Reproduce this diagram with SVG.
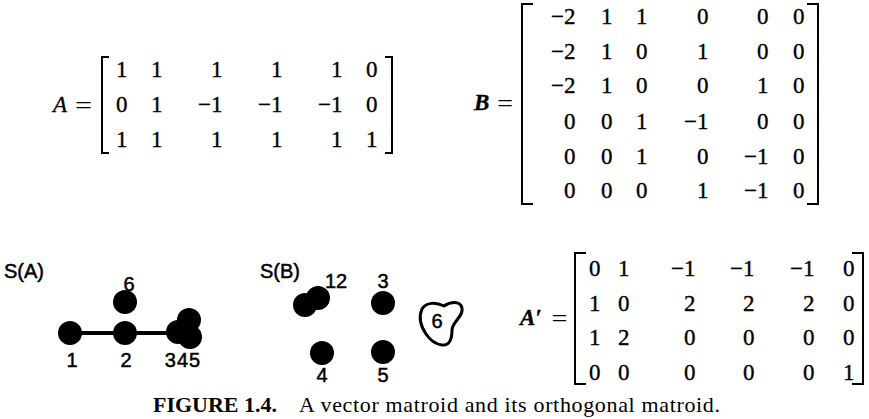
<svg xmlns="http://www.w3.org/2000/svg" width="869" height="419" viewBox="0 0 869 419">
  <style>
    .m text { font-family: "Liberation Serif", "Times New Roman", serif; font-size: 23px; fill: #000; stroke: #000; stroke-width: 0.35px; text-anchor: end; }
    .lbl { font-family: "Liberation Serif", "Times New Roman", serif; font-size: 23px; font-style: italic; fill: #000; stroke: #000; stroke-width: 0.3px; }
    .eq { font-family: "Liberation Serif", "Times New Roman", serif; font-size: 26px; fill: #000; text-anchor: middle; }
    .br { fill: none; stroke: #000; stroke-width: 2; }
    .g { font-family: "Liberation Sans", Arial, sans-serif; font-size: 20px; fill: #000; stroke: #000; stroke-width: 0.5px; }
    .gc { text-anchor: middle; }
    .dot { fill: #000; }
    .edge { stroke: #000; stroke-width: 4; fill: none; }
    .loop { fill: none; stroke: #000; stroke-width: 3; stroke-linejoin: round; }
    .cap { font-family: "Liberation Serif", "Times New Roman", serif; font-size: 22px; fill: #000; }
  </style>

  <!-- Matrix A -->
  <g id="matrix-A">
    <text class="lbl" x="53" y="112">A</text>
    <text class="eq" x="83.5" y="114" textLength="17" lengthAdjust="spacingAndGlyphs">=</text>
    <path class="br" d="M109,57 H102 V153 H109"/>
    <path class="br" d="M385,57 H392 V153 H385"/>
    <g class="m">
      <text x="127.5" y="77">1</text><text x="162.5" y="77">1</text><text x="222.5" y="77">1</text><text x="282.5" y="77">1</text><text x="342.5" y="77">1</text><text x="377.5" y="77">0</text>
      <text x="127.5" y="112">0</text><text x="162.5" y="112">1</text><text x="222.5" y="112">−1</text><text x="282.5" y="112">−1</text><text x="342.5" y="112">−1</text><text x="377.5" y="112">0</text>
      <text x="127.5" y="147">1</text><text x="162.5" y="147">1</text><text x="222.5" y="147">1</text><text x="282.5" y="147">1</text><text x="342.5" y="147">1</text><text x="377.5" y="147">1</text>
    </g>
  </g>

  <!-- Matrix B -->
  <g id="matrix-B">
    <text class="lbl" x="474" y="110" font-weight="bold">B</text>
    <text class="eq" x="505" y="112" textLength="16" lengthAdjust="spacingAndGlyphs">=</text>
    <path class="br" d="M533,4 H522 V204 H533"/>
    <path class="br" d="M807,4 H818 V204 H807"/>
    <g class="m">
      <text x="575.5" y="24">−2</text><text x="612.5" y="24">1</text><text x="647.5" y="24">1</text><text x="708.5" y="24">0</text><text x="768.5" y="24">0</text><text x="804.5" y="24">0</text>
      <text x="575.5" y="59">−2</text><text x="612.5" y="59">1</text><text x="647.5" y="59">0</text><text x="708.5" y="59">1</text><text x="768.5" y="59">0</text><text x="804.5" y="59">0</text>
      <text x="575.5" y="93">−2</text><text x="612.5" y="93">1</text><text x="647.5" y="93">0</text><text x="708.5" y="93">0</text><text x="768.5" y="93">1</text><text x="804.5" y="93">0</text>
      <text x="575.5" y="129">0</text><text x="612.5" y="129">0</text><text x="647.5" y="129">1</text><text x="708.5" y="129">−1</text><text x="768.5" y="129">0</text><text x="804.5" y="129">0</text>
      <text x="575.5" y="164">0</text><text x="612.5" y="164">0</text><text x="647.5" y="164">1</text><text x="708.5" y="164">0</text><text x="768.5" y="164">−1</text><text x="804.5" y="164">0</text>
      <text x="575.5" y="198">0</text><text x="612.5" y="198">0</text><text x="647.5" y="198">0</text><text x="708.5" y="198">1</text><text x="768.5" y="198">−1</text><text x="804.5" y="198">0</text>
    </g>
  </g>

  <!-- Matrix A' -->
  <g id="matrix-A-prime">
    <text class="lbl" x="520" y="325" font-weight="bold">A′</text>
    <text class="eq" x="559.5" y="327" textLength="16" lengthAdjust="spacingAndGlyphs">=</text>
    <path class="br" d="M586,253 H575 V384 H586"/>
    <path class="br" d="M852,253 H863 V384 H852"/>
    <g class="m">
      <text x="600.5" y="276">0</text><text x="629.5" y="276">1</text><text x="695.5" y="276">−1</text><text x="754.5" y="276">−1</text><text x="814.5" y="276">−1</text><text x="854.5" y="276">0</text>
      <text x="600.5" y="311">1</text><text x="629.5" y="311">0</text><text x="695.5" y="311">2</text><text x="754.5" y="311">2</text><text x="814.5" y="311">2</text><text x="854.5" y="311">0</text>
      <text x="600.5" y="345">1</text><text x="629.5" y="345">2</text><text x="695.5" y="345">0</text><text x="754.5" y="345">0</text><text x="814.5" y="345">0</text><text x="854.5" y="345">0</text>
      <text x="600.5" y="380">0</text><text x="629.5" y="380">0</text><text x="695.5" y="380">0</text><text x="754.5" y="380">0</text><text x="814.5" y="380">0</text><text x="854.5" y="380">1</text>
    </g>
  </g>

  <!-- Geometric representation S(A) -->
  <text class="g" x="4" y="278">S(A)</text>
  <g id="connectors">
    <line class="edge" x1="70" y1="333" x2="178" y2="333"/>
  </g>
  <g id="sa-node-1">
    <circle class="dot" cx="70" cy="333" r="12"/>
    <text class="g gc" x="72" y="367">1</text>
  </g>
  <g id="sa-node-2">
    <circle class="dot" cx="125" cy="333" r="12"/>
    <text class="g gc" x="126" y="367">2</text>
  </g>
  <g id="sa-node-6">
    <circle class="dot" cx="125" cy="302" r="12"/>
    <text class="g gc" x="129" y="291">6</text>
  </g>
  <g id="sa-node-345">
    <circle class="dot" cx="178" cy="332" r="12"/>
    <circle class="dot" cx="189" cy="320" r="12"/>
    <circle class="dot" cx="190" cy="337" r="12"/>
    <text class="g gc" x="183" y="367" letter-spacing="1">345</text>
  </g>

  <!-- Geometric representation S(B) -->
  <text class="g" x="260" y="278">S(B)</text>
  <g id="sb-node-12">
    <circle class="dot" cx="305" cy="305" r="12"/>
    <circle class="dot" cx="318" cy="298" r="12"/>
    <text class="g" x="325" y="288">12</text>
  </g>
  <g id="sb-node-3">
    <circle class="dot" cx="383" cy="303" r="12"/>
    <text class="g gc" x="383" y="288">3</text>
  </g>
  <g id="sb-node-4">
    <circle class="dot" cx="322" cy="353" r="12"/>
    <text class="g gc" x="322" y="382">4</text>
  </g>
  <g id="sb-node-5">
    <circle class="dot" cx="383" cy="352" r="12"/>
    <text class="g gc" x="383" y="382">5</text>
  </g>
  <g id="sb-node-6">
    <path class="loop" d="M422,309 C426,302 436,302 444,306 C450,302 460,300 462,308 C464,316 452,322 452,330 C452,338 450,346 442,345 C434,344 430,340 426,334 C422,328 418,318 422,309 Z"/>
    <text class="g gc" x="437" y="328">6</text>
  </g>

  <!-- Caption -->
  <g id="caption">
    <text class="cap" x="153" y="412" font-weight="bold" textLength="124" lengthAdjust="spacingAndGlyphs">FIGURE 1.4.</text>
    <text class="cap" x="299" y="412" textLength="421" lengthAdjust="spacing">A vector matroid and its orthogonal matroid.</text>
  </g>
</svg>
